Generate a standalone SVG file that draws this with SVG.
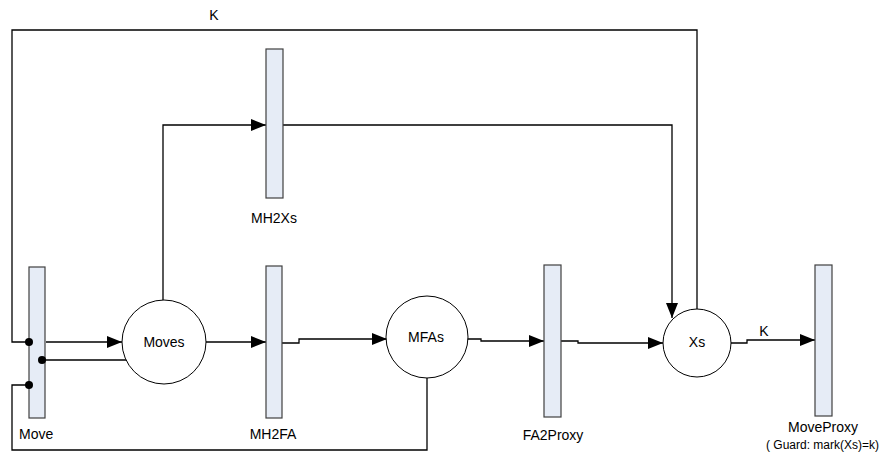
<svg xmlns="http://www.w3.org/2000/svg" width="883" height="455" viewBox="0 0 883 455">
<defs>
<marker id="ah" markerUnits="userSpaceOnUse" markerWidth="16" markerHeight="12" refX="15" refY="6" orient="auto"><path d="M0,0 L15,6 L0,12 Z" fill="#000"/></marker>
<style>
.t{font-family:"Liberation Sans",Arial,sans-serif;font-size:14px;fill:#000}
.g{font-size:12px}
.bar{fill:#E6ECF6;stroke:#404040;stroke-width:1.2}
.pl{fill:#fff;stroke:#000;stroke-width:1}
.c{fill:none;stroke:#000;stroke-width:1.3}
.a{marker-end:url(#ah)}
</style>
</defs>
<rect width="883" height="455" fill="#fff"/>
<g id="connectors">
<polyline class="c" points="697,309 697,30 12,30 12,342 29,342"/>
<line class="c a" x1="46" y1="342" x2="122" y2="342"/>
<line class="c" x1="42" y1="360" x2="127" y2="360"/>
<polyline class="c" points="29,385 12,385 12,450 427,450 427,378"/>
<polyline class="c a" points="163,300 163,125 266,125"/>
<polyline class="c a" points="283,125 672,125 672,318"/>
<line class="c a" x1="206" y1="342" x2="266" y2="342"/>
<polyline class="c a" points="282,343 299,343 299,339 387,339"/>
<polyline class="c a" points="465,339 481,339 481,341 544,341"/>
<polyline class="c a" points="561,341 578,341 578,343 663,343"/>
<polyline class="c a" points="731,343 747,343 747,340 815,340"/>
<text class="t" x="214" y="20" text-anchor="middle">K</text>
<text class="t" x="764" y="336" text-anchor="middle">K</text>
</g>
<g id="Move">
<rect class="bar" x="29" y="267" width="16" height="151"/>
<text class="t" x="19" y="439">Move</text>
</g>
<g id="Moves">
<circle class="pl" cx="164" cy="342" r="42"/>
<text class="t" x="164" y="347" text-anchor="middle">Moves</text>
</g>
<g id="MH2Xs">
<rect class="bar" x="266" y="49" width="17" height="149"/>
<text class="t" x="274" y="223" text-anchor="middle">MH2Xs</text>
</g>
<g id="MH2FA">
<rect class="bar" x="266" y="266" width="16" height="152"/>
<text class="t" x="273" y="439" text-anchor="middle">MH2FA</text>
</g>
<g id="MFAs">
<circle class="pl" cx="427" cy="337" r="41"/>
<text class="t" x="426" y="342" text-anchor="middle">MFAs</text>
</g>
<g id="FA2Proxy">
<rect class="bar" x="544" y="265" width="17" height="152"/>
<text class="t" x="553" y="440" text-anchor="middle">FA2Proxy</text>
</g>
<g id="Xs">
<circle class="pl" cx="697" cy="343" r="34"/>
<text class="t" x="697" y="347" text-anchor="middle">Xs</text>
</g>
<g id="MoveProxy">
<rect class="bar" x="815" y="265" width="17" height="151"/>
<text class="t" x="823" y="432" text-anchor="middle">MoveProxy</text>
<text class="t g" x="879" y="449" text-anchor="end">( Guard: mark(Xs)=k)</text>
</g>
<g id="ports">
<circle cx="29" cy="342" r="4" fill="#000"/>
<circle cx="42" cy="360" r="4" fill="#000"/>
<circle cx="29" cy="385" r="4" fill="#000"/>
</g>
</svg>
